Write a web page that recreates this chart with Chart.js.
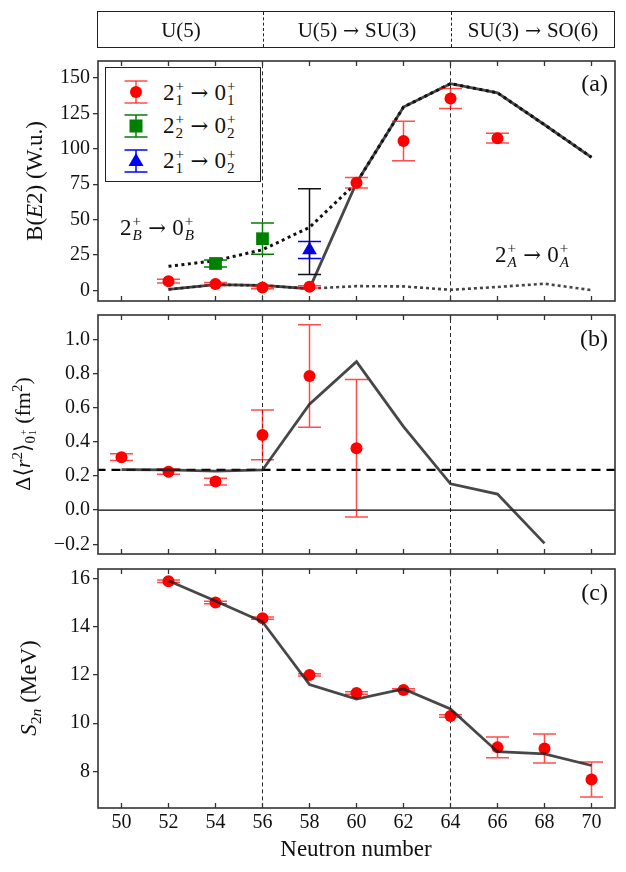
<!DOCTYPE html>
<html>
<head>
<meta charset="utf-8">
<script src="https://cdn.jsdelivr.net/npm/chart.js@4.4.1/dist/chart.umd.min.js"></script>
<style>
  body { margin: 0; background: #fff; }
  #page { position: relative; width: 626px; height: 872px; overflow: hidden; font-family: "Liberation Serif", "DejaVu Serif", serif; color: #111; }
  canvas { position: absolute; left: 0; }
  .t { position: absolute; white-space: nowrap; line-height: 1; transform: translateY(-50%); }
  .c { transform: translate(-50%, -50%); }
  .rot { transform: translate(-50%, -50%) rotate(-90deg); }
  .ss { display: inline-block; vertical-align: -0.34em; font-size: 0.66em; line-height: 0.95; margin-left: 1px; text-align: left; }
  .ss span { display: block; }
  .ar { font-family: "DejaVu Serif", serif; font-size: 0.92em; margin: 0 0.3em; }
  sup, sub { font-size: 0.68em; line-height: 0; }
  #hdr { position: absolute; left: 97px; top: 11px; width: 518px; height: 37px; border: 1.5px solid #222; box-sizing: border-box; }
  .div { position: absolute; top: 0; bottom: 0; border-left: 1px dashed #222; }
  #leg { position: absolute; left: 105px; top: 67px; width: 156px; height: 115px; border: 1.5px solid #222; box-sizing: border-box; background: #fff; }
</style>
</head>
<body>
<div id="page">
  <canvas id="cA" width="626" height="277" style="top:40px"></canvas>
  <canvas id="cB" width="626" height="275" style="top:295px"></canvas>
  <canvas id="cC" width="626" height="323" style="top:549px"></canvas>

  <div id="hdr">
    <div class="div" style="left:165px"></div>
    <div class="div" style="left:353px"></div>
    <div class="t c" style="left:83px;top:50%;font-size:21px">U(5)</div>
    <div class="t c" style="left:259px;top:50%;font-size:21px">U(5)<span class="ar">→</span>SU(3)</div>
    <div class="t c" style="left:435px;top:50%;font-size:21px">SU(3)<span class="ar">→</span>SO(6)</div>
  </div>

  <div id="leg">
    <svg style="position:absolute;left:15px;top:11px" width="30" height="26">
      <g stroke="rgba(255,0,0,0.7)" stroke-width="1.5"><line x1="15" y1="2" x2="15" y2="24"/><line x1="3.5" y1="2" x2="26.5" y2="2"/><line x1="3.5" y1="24" x2="26.5" y2="24"/></g>
      <circle cx="15" cy="13" r="6" fill="#ff0000"/>
    </svg>
    <svg style="position:absolute;left:15px;top:45px" width="30" height="26">
      <g stroke="#008000" stroke-width="1.5"><line x1="15" y1="2" x2="15" y2="24"/><line x1="3.5" y1="2" x2="26.5" y2="2"/><line x1="3.5" y1="24" x2="26.5" y2="24"/></g>
      <rect x="8.5" y="6.5" width="13" height="13" fill="#008000"/>
    </svg>
    <svg style="position:absolute;left:15px;top:80px" width="30" height="26">
      <g stroke="#0000ff" stroke-width="1.5"><line x1="15" y1="2" x2="15" y2="24"/><line x1="3.5" y1="2" x2="26.5" y2="2"/><line x1="3.5" y1="24" x2="26.5" y2="24"/></g>
      <polygon points="15,5 22.5,18 7.5,18" fill="#0000ff"/>
    </svg>
    <div class="t" style="left:57px;top:25px;font-size:23px">2<span class="ss"><span>+</span><span>1</span></span><span class="ar">→</span>0<span class="ss"><span>+</span><span>1</span></span></div>
    <div class="t" style="left:57px;top:58px;font-size:23px">2<span class="ss"><span>+</span><span>2</span></span><span class="ar">→</span>0<span class="ss"><span>+</span><span>2</span></span></div>
    <div class="t" style="left:57px;top:93px;font-size:23px">2<span class="ss"><span>+</span><span>1</span></span><span class="ar">→</span>0<span class="ss"><span>+</span><span>2</span></span></div>
  </div>

  <div class="t" style="left:120px;top:228px;font-size:23px">2<span class="ss"><span>+</span><span><i>B</i></span></span><span class="ar">→</span>0<span class="ss"><span>+</span><span><i>B</i></span></span></div>
  <div class="t" style="left:495px;top:255px;font-size:23px">2<span class="ss"><span>+</span><span><i>A</i></span></span><span class="ar">→</span>0<span class="ss"><span>+</span><span><i>A</i></span></span></div>

  <div class="t" style="right:18px;top:83px;font-size:24px">(a)</div>
  <div class="t" style="right:18px;top:338px;font-size:24px">(b)</div>
  <div class="t" style="right:18px;top:592px;font-size:24px">(c)</div>

  <div class="t rot" style="left:34px;top:181px;font-size:23px">B(<i>E</i>2) (W.u.)</div>
  <div class="t rot" style="left:25px;top:434px;font-size:22px">Δ⟨<i>r</i><sup>2</sup>⟩<sub>0<span class="ss" style="vertical-align:-0.1em"><span>+</span><span>1</span></span></sub> (fm<sup>2</sup>)</div>
  <div class="t rot" style="left:28px;top:688px;font-size:23px"><i>S</i><sub>2<i>n</i></sub> (MeV)</div>

  <div class="t c" style="left:356px;top:848px;font-size:23px">Neutron number</div>
</div>

<script>
const FONT = '"Liberation Serif", "DejaVu Serif", serif';

// neutron number axis
const xTicks = [50, 52, 54, 56, 58, 60, 62, 64, 66, 68, 70];
const phaseN = [56, 64];
const calcN = [52, 54, 56, 58, 60, 62, 64, 66, 68, 70];

// (a) B(E2) in W.u.
const be2Ticks = [0, 25, 50, 75, 100, 125, 150];
const be2N = [52, 54, 56, 58, 60, 62, 64, 66];
const be2Exp = [6.5, 4.5, 2, 2.5, 76, 105.5, 135.5, 107.5];
const be2Err = [1.3, 1, 0.8, 0.8, 3.7, 14, 7, 3.5];
const be22N = [54, 56];
const be22Exp = [19, 36.5];
const be22Err = [2.5, 11];
const be20N = [58];
const be20Exp = [28.5];
const be20Err = [6];
const be2BarN = [58];
const be2BarMid = [41.5];
const be2BarErr = [30.3];
const be2Calc = [0.7, 4, 3.5, 1.2, 76, 129.5, 146, 139.5, 117, 94];
const be2CalcB = [17, 21, 28.7, 44.5, 76, 129.5, 146, 139.5, 117, 94];
const be2CalcA = [0.7, 4, 3.5, 1.2, 3, 2.8, 0.4, 2.4, 4.7, 0.2];

// (b) isotope shift
const radTicks = [-0.2, 0, 0.2, 0.4, 0.6, 0.8, 1.0];
const radN = [50, 52, 54, 56, 58, 60];
const radExp = [0.31, 0.225, 0.167, 0.44, 0.785, 0.362];
const radErr = [0.02, 0.015, 0.02, 0.146, 0.3, 0.403];
const radCalcN = [50, 52, 54, 56, 58, 60, 62, 64, 66, 68];
const radCalc = [0.237, 0.235, 0.228, 0.235, 0.62, 0.869, 0.489, 0.154, 0.094, -0.195];
const radRef = 0.235;

// (c) S2n in MeV
const s2nTicks = [8, 10, 12, 14, 16];
const s2nExp = [15.88, 15.0, 14.35, 12.0, 11.25, 11.38, 10.3, 9.0, 8.95, 7.67];
const s2nErr = [0.05, 0.05, 0.05, 0.05, 0.05, 0.05, 0.05, 0.43, 0.6, 0.72];
const s2nCalc = [15.9, 15.06, 14.2, 11.6, 11.0, 11.42, 10.59, 8.82, 8.73, 8.25];

const pts = (xs, ys) => xs.map((x, i) => ({ x: x, y: ys[i] }));

// error bars + frame + inward x ticks
const panelPlugin = {
  id: 'panel',
  beforeDatasetDraw(chart, args) {
    const ds = chart.data.datasets[args.index];
    if (!ds.yErr) return;
    const sx = chart.scales.x, sy = chart.scales.y, ctx = chart.ctx;
    ctx.save();
    ctx.strokeStyle = ds.errColor;
    ctx.lineWidth = 1.5;
    ctx.beginPath();
    ds.data.forEach((p, i) => {
      const px = sx.getPixelForValue(p.x);
      const lo = sy.getPixelForValue(p.y - ds.yErr[i]);
      const hi = sy.getPixelForValue(p.y + ds.yErr[i]);
      ctx.moveTo(px, lo); ctx.lineTo(px, hi);
      ctx.moveTo(px - 11.5, lo); ctx.lineTo(px + 11.5, lo);
      ctx.moveTo(px - 11.5, hi); ctx.lineTo(px + 11.5, hi);
    });
    ctx.stroke();
    ctx.restore();
  },
  afterDraw(chart) {
    const ctx = chart.ctx, a = chart.chartArea, sx = chart.scales.x;
    ctx.save();
    ctx.strokeStyle = '#333';
    ctx.lineWidth = 1.6;
    ctx.strokeRect(a.left, a.top, a.right - a.left, a.bottom - a.top);
    ctx.lineWidth = 1.3;
    ctx.beginPath();
    xTicks.forEach(v => {
      const px = sx.getPixelForValue(v);
      ctx.moveTo(px, a.top); ctx.lineTo(px, a.top + 5);
      ctx.moveTo(px, a.bottom); ctx.lineTo(px, a.bottom - 5);
    });
    ctx.stroke();
    ctx.restore();
  }
};

const vline = (n) => ({
  data: [{ x: n, y: -1000 }, { x: n, y: 1000 }], showLine: true,
  borderColor: '#111', borderWidth: 0.9, borderDash: [4, 3], pointRadius: 0, order: 9
});
const hline = (v, width, dash) => ({
  data: [{ x: 40, y: v }, { x: 80, y: v }], showLine: true,
  borderColor: '#000', borderWidth: width, borderDash: dash, pointRadius: 0, order: 8
});
const marks = (xs, ys, errs, color, style, radius, errColor) => ({
  data: pts(xs, ys), yErr: errs, errColor: errColor,
  backgroundColor: color, borderColor: color, borderWidth: 0,
  pointStyle: style, pointRadius: radius, showLine: false, order: 3
});
const curve = (xs, ys, color, width, dash, order) => ({
  data: pts(xs, ys), showLine: true, borderColor: color, borderWidth: width,
  borderDash: dash, pointRadius: 0, order: order, tension: 0
});

function makePanel(id, yMin, yMax, yTicks, datasets, o) {
  return new Chart(document.getElementById(id), {
    type: 'scatter',
    data: { datasets: datasets },
    options: {
      responsive: false,
      animation: false,
      events: [],
      layout: { padding: { left: 0, right: 11, top: o.padTop, bottom: o.padBottom } },
      plugins: { legend: { display: false }, tooltip: { enabled: false } },
      scales: {
        x: {
          type: 'linear', min: 49, max: 71,
          display: o.showX,
          afterBuildTicks: s => { s.ticks = xTicks.map(v => ({ value: v })); },
          afterFit: s => { s.height = o.xHeight; },
          grid: { display: false },
          border: { display: false },
          ticks: { font: { family: FONT, size: 20 }, color: '#111', padding: -5 }
        },
        y: {
          min: yMin, max: yMax,
          afterBuildTicks: s => { s.ticks = yTicks.map(v => ({ value: v })); },
          afterFit: s => { s.width = 98; },
          grid: { drawOnChartArea: false, drawTicks: true, tickLength: 5, color: '#333', lineWidth: 1.3 },
          border: { display: false },
          ticks: { font: { family: FONT, size: 20 }, color: '#111', padding: 3, callback: o.fmt }
        }
      }
    },
    plugins: [panelPlugin]
  });
}

const RED = '#ff0000', RED_ERR = 'rgba(255,0,0,0.7)';
const LINE = 'rgba(30,30,30,0.82)';

makePanel('cA', -7.5, 162, be2Ticks, [
  vline(phaseN[0]), vline(phaseN[1]),
  curve(calcN, be2CalcA, '#444', 2.6, [3, 3], 6),
  curve(calcN, be2Calc, LINE, 2.8, [], 5),
  curve(calcN, be2CalcB, '#111', 3, [3, 3.5], 4),
  marks(be2BarN, be2BarMid, be2BarErr, '#111', 'circle', 0, '#111'),
  marks(be20N, be20Exp, be20Err, '#0000ff', 'triangle', 8.5, '#0000ff'),
  marks(be22N, be22Exp, be22Err, '#008000', 'rect', 9, '#008000'),
  marks(be2N, be2Exp, be2Err, RED, 'circle', 6, RED_ERR)
], { padTop: 21, padBottom: 16, showX: false, xHeight: 0, fmt: v => String(v) });

makePanel('cB', -0.257, 1.142, radTicks, [
  vline(phaseN[0]), vline(phaseN[1]),
  hline(0, 1.2, []),
  hline(radRef, 2.2, [9, 6]),
  curve(radCalcN, radCalc, LINE, 2.8, [], 2),
  marks(radN, radExp, radErr, RED, 'circle', 6, RED_ERR)
], { padTop: 20, padBottom: 16, showX: false, xHeight: 0, fmt: v => v.toFixed(1).replace('-', '\u2212') });

makePanel('cC', 6.49, 16.385, s2nTicks, [
  vline(phaseN[0]), vline(phaseN[1]),
  curve(calcN, s2nCalc, LINE, 2.8, [], 2),
  marks(calcN, s2nExp, s2nErr, RED, 'circle', 6, RED_ERR)
], { padTop: 20, padBottom: 0, showX: true, xHeight: 64, fmt: v => String(v) });
</script>
</body>
</html>
